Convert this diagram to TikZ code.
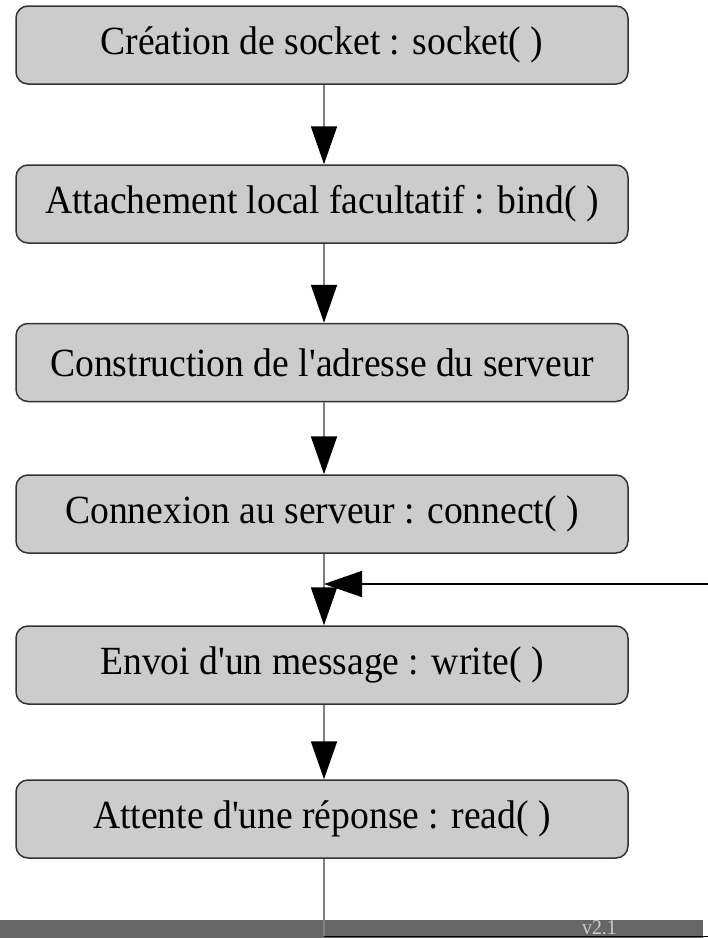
\documentclass[tikz,border=0pt]{standalone}
\usepackage{fontspec}
\usepackage{graphicx}
\setmainfont{Liberation Serif}[Ligatures=TeXOff]
\usetikzlibrary{arrows.meta}
\definecolor{boxfill}{HTML}{CCCCCC}
\definecolor{boxline}{HTML}{333333}
\definecolor{linkgray}{HTML}{808080}
\definecolor{bargray}{HTML}{666666}
\definecolor{vertext}{HTML}{CCCCCC}
\tikzset{
  stepbox/.style={draw=boxline, fill=boxfill, rounded corners=12pt, line width=1.5pt,
    minimum width=612pt, minimum height=78pt, inner sep=0pt,
    font=\fontsize{40}{48}\selectfont},
  link/.style={draw=linkgray, line width=2pt,
    -{Triangle[width=26pt,length=38pt,black]}},
  back/.style={draw=black, line width=1.5pt,
    -{Triangle[width=26pt,length=38pt,black]}},
}
\newcommand{\sq}[1]{\scalebox{0.94}[1]{#1}}
\begin{document}
\begin{tikzpicture}[x=1pt,y=-1pt]
\useasboundingbox (0,0) rectangle (708,938);
\clip (0,0) rectangle (708,938);
% bottom bar
\fill[bargray] (0,920) rectangle (703,938);
% boxes
\node[stepbox] (b1) at (322,45) {\sq{Création de socket : socket( )}};
\node[stepbox] (b2) at (322,204) {\sq{Attachement local facultatif : bind( )}};
\node[stepbox] (b3) at (322,362.5) {\sq{Construction de l'adresse du serveur}};
\node[stepbox] (b4) at (322,514) {\sq{Connexion au serveur : connect( )}};
\node[stepbox] (b5) at (322,665) {\sq{Envoi d'un message : write( )}};
\node[stepbox] (b6) at (322,819) {\sq{Attente d'une réponse : read( )}};
% arrows
\draw[link] ([xshift=2pt]b1.south) -- ([xshift=2pt]b2.north);
\draw[link] ([xshift=2pt]b2.south) -- ([xshift=2pt]b3.north);
\draw[link] ([xshift=2pt]b3.south) -- ([xshift=2pt]b4.north);
\draw[link] ([xshift=2pt]b4.south) -- ([xshift=2pt]b5.north);
\draw[link] ([xshift=2pt]b5.south) -- ([xshift=2pt]b6.north);
% loop back
\coordinate (j) at (324,584);
\coordinate (fb) at (712,584);
\coordinate (lc) at (324,936.5);
\coordinate (le) at (712,936.5);
\draw[back] (fb) -- (j);
\draw[linkgray, line width=2pt] ([xshift=2pt]b6.south) -- (lc);
\draw[black, line width=1.5pt] (lc) -- (le);
\node[anchor=base west, text=vertext, font=\fontsize{21}{25}\selectfont, inner sep=0pt] (ver) at (582,934) {\sq{v2.1}};
\end{tikzpicture}
\end{document}
